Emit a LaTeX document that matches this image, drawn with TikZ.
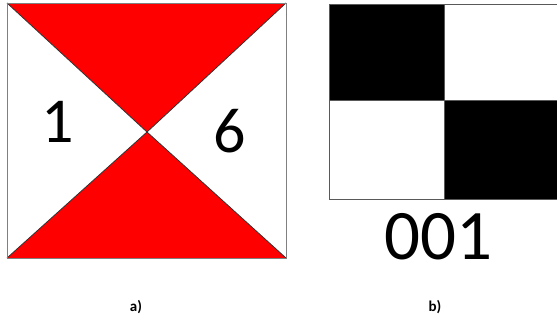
\documentclass[tikz,border=0pt]{standalone}
\usepackage{fontspec}
\setmainfont{Carlito}
\usepackage{xcolor}
\usetikzlibrary{calc, positioning}

\definecolor{flagred}{RGB}{255,0,0}

\begin{document}
\begin{tikzpicture}[x=1pt, y=-1pt,
    digit/.style={font=\fontsize{64}{64}\selectfont, inner sep=0pt},
    caption/.style={font=\fontsize{15}{15}\selectfont\bfseries, inner sep=0pt}]
    % Cadre
    \useasboundingbox (0,0) rectangle (557,325);

    % a) drapeau
    \coordinate (TL) at (7,3);
    \coordinate (TR) at (286,3);
    \coordinate (BL) at (7,258);
    \coordinate (BR) at (286,258);
    \coordinate (C) at (147,132);
    \fill[flagred] (TL) -- (TR) -- (C) -- cycle;
    \fill[flagred] (BL) -- (BR) -- (C) -- cycle;
    \draw[black!80, line width=0.8pt] (TL) -- (C) -- (TR);
    \draw[black!80, line width=0.8pt] (BL) -- (C) -- (BR);
    \draw[gray, line width=0.8pt] (TL) rectangle (BR);
    \node[digit] (un) at (58,122) {1};
    \node[digit] (six) at (230,131) {6};
    \node[caption] (capa) at (136,307) {a)};

    % b) damier
    \fill[black] (329,4) rectangle (444,100);
    \fill[black] (444,100) rectangle (560,199);
    \draw[gray!70!black, line width=0.8pt] (329,4) rectangle (560,199);
    \draw[gray!70!black, line width=0.8pt] (444,4) -- (444,199);
    \draw[gray!70!black, line width=0.8pt] (329,100) -- (560,100);
    \node[digit, font=\fontsize{71}{71}\selectfont] (code) at (438,237) {001};
    \node[caption] (capb) at (435,307) {b)};
\end{tikzpicture}
\end{document}
